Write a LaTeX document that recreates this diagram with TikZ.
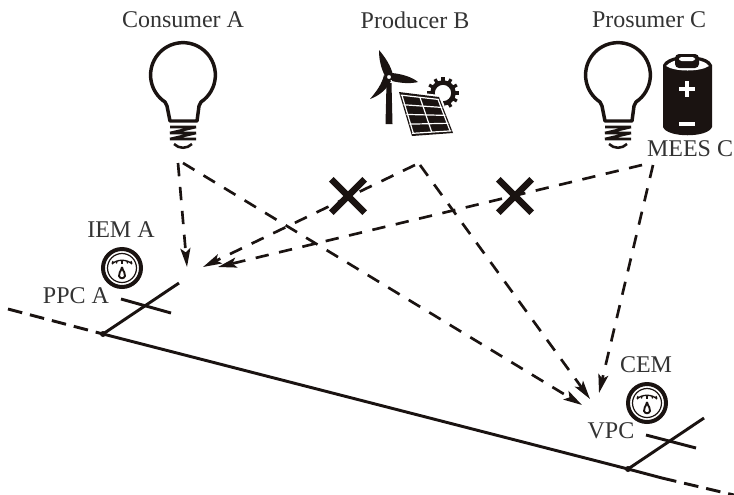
\documentclass[tikz,border=0pt]{standalone}
\usepackage{fontspec}
\setmainfont{Liberation Serif}
\usepackage{xcolor}
\usepackage{tikz}
\usetikzlibrary{shapes.misc,arrows.meta,calc}
\definecolor{inkBlack}{HTML}{1A1311}
\tikzstyle{tsLabel} = [
    text=black!80,
    font=\fontsize{18}{21}\selectfont,
    inner sep=0pt
]
\tikzstyle{tsFlow} = [
    draw=inkBlack,
    line width=2pt,
    dash pattern=on 10pt off 8pt,
    -{Stealth[length=14pt,width=7.5pt,inset=3pt]}
]
\tikzstyle{tsGrid} = [
    draw=inkBlack,
    line width=2.2pt
]
\tikzstyle{tsBlocked} = [
    cross out,
    draw=inkBlack,
    line width=5pt,
    minimum size=25pt,
    inner sep=0pt,
    outer sep=0pt
]
\tikzset{
    bulb/.pic={
        \draw[inkBlack, line width=2.6pt, line join=round] (-13,46) -- (-16,31) -- (-18,27) arc (123.7:416.3:32.4) -- (16,31) -- (14,46) -- cycle;
        \draw[inkBlack, line width=2pt, line join=bevel] (-13,52) -- (13,52) -- (-13,58) -- (13,58) -- (-13,64) -- (13,64);
        \draw[inkBlack, line width=1.9pt] (-9,69) .. controls (-4,74) and (4,74) .. (9,69);
    },
    meter/.pic={
        \draw[inkBlack, line width=3pt] (0,0) circle (19);
        \draw[inkBlack, line width=0.9pt] (0,0) circle (14.5);
        \draw[inkBlack, line width=1pt] (-10,-4) .. controls (-5,-9) and (5,-9) .. (10,-4);
        \foreach \a in {-9,-5,0,5,9}
            \draw[inkBlack, line width=0.9pt] (\a,-7) -- (\a*1.1,-4.5);
        \draw[inkBlack, fill=white, line width=1.4pt] (0,-1) .. controls (-1,4) and (-4,5) .. (-3,8) .. controls (-2,11) and (2,11) .. (3,8) .. controls (4,5) and (1,4) .. (0,-1);
    }
}

\begin{document}
\begin{tikzpicture}[x=0.75pt,y=-0.75pt]

        \useasboundingbox (0,0) rectangle (734,494);

        % end points of the flows and of the line
        \coordinate (consumerDown) at (178,163);
        \coordinate (consumerAcross) at (183,163);
        \coordinate (producerLeft) at (415,165);
        \coordinate (producerRight) at (420,165);
        \coordinate (prosumerLeft) at (642,165);
        \coordinate (prosumerRight) at (653,165);
        \coordinate (tipConsumer) at (187,267);
        \coordinate (tipProducer) at (203,267);
        \coordinate (tipProsumer) at (218,267);
        \coordinate (tipVpcA) at (582,405);
        \coordinate (tipVpcB) at (590,399);
        \coordinate (tipVpcC) at (599,393);
        \coordinate (lineStart) at (8,309);
        \coordinate (ppcPoint) at (103,334);
        \coordinate (vpcPoint) at (628,469);
        \coordinate (lineCut) at (662,478);
        \coordinate (lineEnd) at (734,495);
        \coordinate (ppcTop) at (179,283);
        \coordinate (ppcBarL) at (121,299);
        \coordinate (ppcBarR) at (171,313);
        \coordinate (vpcTop) at (704,418);
        \coordinate (vpcBarL) at (646,435);
        \coordinate (vpcBarR) at (696,448);

        \node[tsLabel] (consumer) at (183,20) {Consumer A};
        \node[tsLabel] (producer) at (415,20) {Producer B};
        \node[tsLabel] (prosumer) at (649,20) {Prosumer C};
        \node[tsLabel] (mees) at (690,149) {MEES C};
        \node[tsLabel] (iem) at (121,230) {IEM A};
        \node[tsLabel] (ppc) at (76,296) {PPC A};
        \node[tsLabel] (cem) at (646,365) {CEM};
        \node[tsLabel] (vpc) at (611,431) {VPC};

        \pic at (183,75) {bulb};
        \pic at (618,75) {bulb};

        % battery
        \fill[inkBlack] (663,65) .. controls (665,60) and (672,58) .. (676,57) -- (698,57) .. controls (704,58) and (710,60) .. (712,65) -- (712,127) .. controls (708,138) and (667,138) .. (663,127) -- cycle;
        \fill[white] (666,66) .. controls (670,62) and (674,61) .. (677,60) -- (697,60) .. controls (701,61) and (706,62) .. (709,66) .. controls (700,72) and (675,72) .. (666,66) -- cycle;
        \fill[inkBlack, rounded corners=3pt] (675,54) rectangle (699,68);
        \fill[white, rounded corners=2pt] (679,57) rectangle (695,61);
        \fill[white] (679,87) rectangle (695,91);
        \fill[white] (685,81) rectangle (689,97);
        \fill[white] (679,122) rectangle (695,126);

        % turbine
        \fill[inkBlack] (386.5,83) -- (391.5,83) -- (392.5,124) -- (385.5,124) -- cycle;
        \fill[inkBlack] (385,76) .. controls (381,68) and (379,60) .. (379,50) .. controls (385,57) and (391,66) .. (393,75) -- cycle;
        \fill[inkBlack] (392,73) .. controls (402,74) and (412,77) .. (418,82) .. controls (410,84) and (400,83) .. (392,81) -- cycle;
        \fill[inkBlack] (384,75) .. controls (382,84) and (376,92) .. (370,99) .. controls (379,96) and (387,89) .. (391,81) -- cycle;
        \draw[inkBlack, fill=white, line width=1.3pt] (389,77) circle (3);

        % gear behind the panel
        \draw[inkBlack, line width=3.4pt] (443,93) circle (10.5);
        \foreach \a in {0,30,...,330}
            \draw[inkBlack, line width=2.4pt] ($(443,93)+(\a:12)$) -- ($(443,93)+(\a:16)$);

        % panel
        \coordinate (panelA) at (399,92);
        \coordinate (panelB) at (439,97);
        \coordinate (panelC) at (453,133);
        \coordinate (panelD) at (412,136);
        \draw[white, line width=3pt, fill=white] (panelA) -- (panelB) -- (panelC) -- (panelD) -- cycle;
        \fill[inkBlack] (panelA) -- (panelB) -- (panelC) -- (panelD) -- cycle;
        \foreach \t in {0.07,0.29,0.51,0.73,0.94}
            \draw[white, line width=0.9pt] ($(panelA)!\t!(panelD)+(0.8,0)$) -- ($(panelB)!\t!(panelC)-(0.8,0)$);
        \foreach \s in {0.05,0.5,0.95} {
            \coordinate (panelTop) at ($(panelA)!\s!(panelB)$);
            \coordinate (panelBottom) at ($(panelD)!\s!(panelC)$);
            \draw[white, line width=0.9pt] ($(panelTop)!0.07!(panelBottom)$) -- ($(panelTop)!0.94!(panelBottom)$);
        }

        \draw[tsFlow] (consumerDown) -- (tipConsumer);
        \draw[tsFlow] (consumerAcross) -- (tipVpcA);
        \draw[tsFlow] (producerLeft) -- (tipProducer);
        \draw[tsFlow] (producerRight) -- (tipVpcB);
        \draw[tsFlow] (prosumerLeft) -- (tipProsumer);
        \draw[tsFlow] (prosumerRight) -- (tipVpcC);

        \node[tsBlocked] (blockProducer) at (348,196) {};
        \node[tsBlocked] (blockProsumer) at (515,196) {};

        \pic at (122,268) {meter};
        \pic at (647,403) {meter};

        \draw[tsGrid, dash pattern=on 11pt off 6pt] (lineStart) -- (ppcPoint);
        \draw[tsGrid] (ppcPoint) -- (vpcPoint) -- (lineCut);
        \draw[tsGrid, dash pattern=on 11pt off 6pt] (lineCut) -- (lineEnd);
        \draw[tsGrid] (ppcPoint) -- (ppcTop);
        \draw[tsGrid] (ppcBarL) -- (ppcBarR);
        \draw[tsGrid] (vpcPoint) -- (vpcTop);
        \draw[tsGrid] (vpcBarL) -- (vpcBarR);
        \fill[inkBlack] (ppcPoint) circle (3);
        \fill[inkBlack] (vpcPoint) circle (3);

    \end{tikzpicture}
\end{document}
